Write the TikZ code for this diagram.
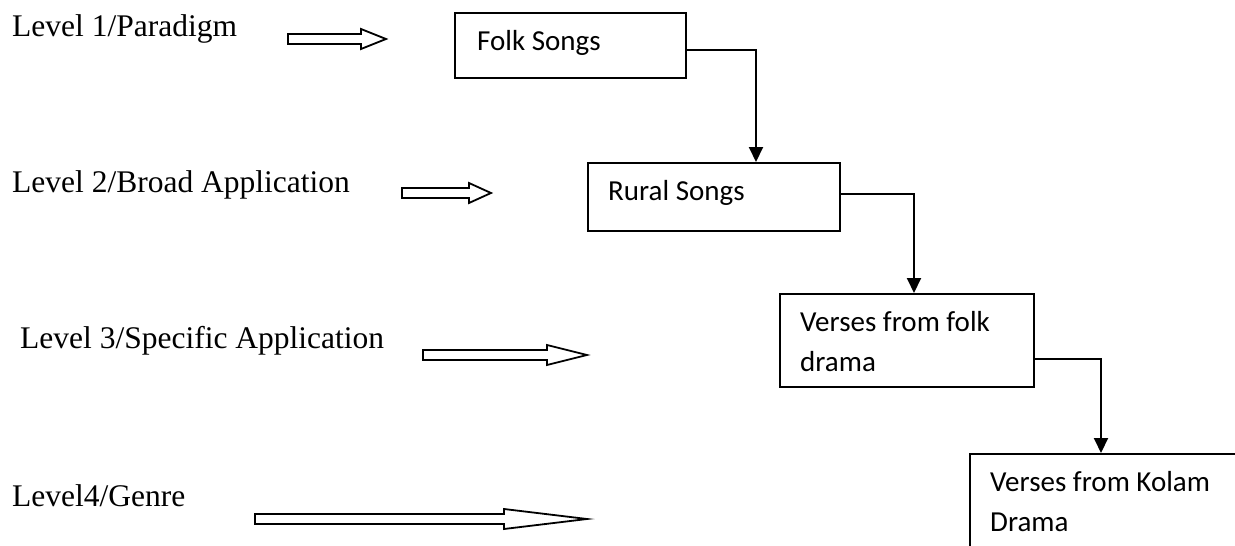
\documentclass[tikz,border=0pt]{standalone}
\usepackage{fontspec}
\setmainfont{Liberation Serif}
\newfontfamily\boxfont{Carlito}
\usetikzlibrary{arrows.meta}

% hollow block arrow: start x, head base x, tip x, centre y
\newcommand\levelarrow[4]{%
  \draw[blockarrow] (#1,#4-5) -- (#2,#4-5) -- (#2,#4-10) -- (#3,#4)
    -- (#2,#4+10) -- (#2,#4+5) -- (#1,#4+5) -- cycle;}

\begin{document}
\begin{tikzpicture}[x=1pt,y=-1pt,
  level/.style={anchor=base west, inner sep=0pt, font=\fontsize{31.5}{38}\selectfont},
  stage/.style={draw, line width=2pt, anchor=north west, inner sep=0pt},
  stagetext/.style={anchor=north west, inner sep=0pt, align=left,
    font=\boxfont\fontsize{29}{40}\selectfont},
  flow/.style={draw, line width=2pt, -{Triangle[length=15pt,width=14pt]}},
  blockarrow/.style={draw, line width=1.8pt, line join=miter}
]
\useasboundingbox (0,0) rectangle (1235,546);
\clip (0,0) rectangle (1235,546);
\fill[white] (0,0) rectangle (1235,546);

% level labels
\node[level] (l1) at (12,36) {Level 1/Paradigm};
\node[level] (l2) at (12,192) {Level 2/Broad Application};
\node[level] (l3) at (20,348) {Level 3/Specific Application};
\node[level] (l4) at (12,506) {Level4/Genre};

% hollow arrows pointing at the hierarchy
\levelarrow{288}{361}{386}{39}
\levelarrow{402}{469}{491}{193}
\levelarrow{423}{547}{587}{355}
\levelarrow{255}{504}{587}{519}

% hierarchy boxes
\node[stage, minimum width=231pt, minimum height=65pt] (folk) at (454,12) {};
\node[stage, minimum width=252pt, minimum height=68pt] (rural) at (587,162) {};
\node[stage, minimum width=254pt, minimum height=93pt] (verses) at (779,293) {};
\node[stage, minimum width=300pt, minimum height=120pt] (kolam) at (969,453) {};

\node[stagetext] (folkt) at ([xshift=23pt,yshift=-18.5pt]folk.north west) {Folk Songs};
\node[stagetext] (ruralt) at ([xshift=21pt,yshift=-18.5pt]rural.north west) {Rural Songs};
\node[stagetext] (versest) at ([xshift=21pt,yshift=-18.5pt]verses.north west) {Verses from folk\\drama};
\node[stagetext] (kolamt) at ([xshift=21pt,yshift=-18.5pt]kolam.north west) {Verses from Kolam\\Drama};

% elbow connectors
\draw[flow] ([yshift=-4.5pt]folk.east) -| ([xshift=42pt]rural.north);
\draw[flow] ([yshift=3pt]rural.east) -| ([xshift=7pt]verses.north);
\draw[flow] ([yshift=-18.5pt]verses.east) -| ([xshift=132pt]kolam.north west);
\end{tikzpicture}
\end{document}
